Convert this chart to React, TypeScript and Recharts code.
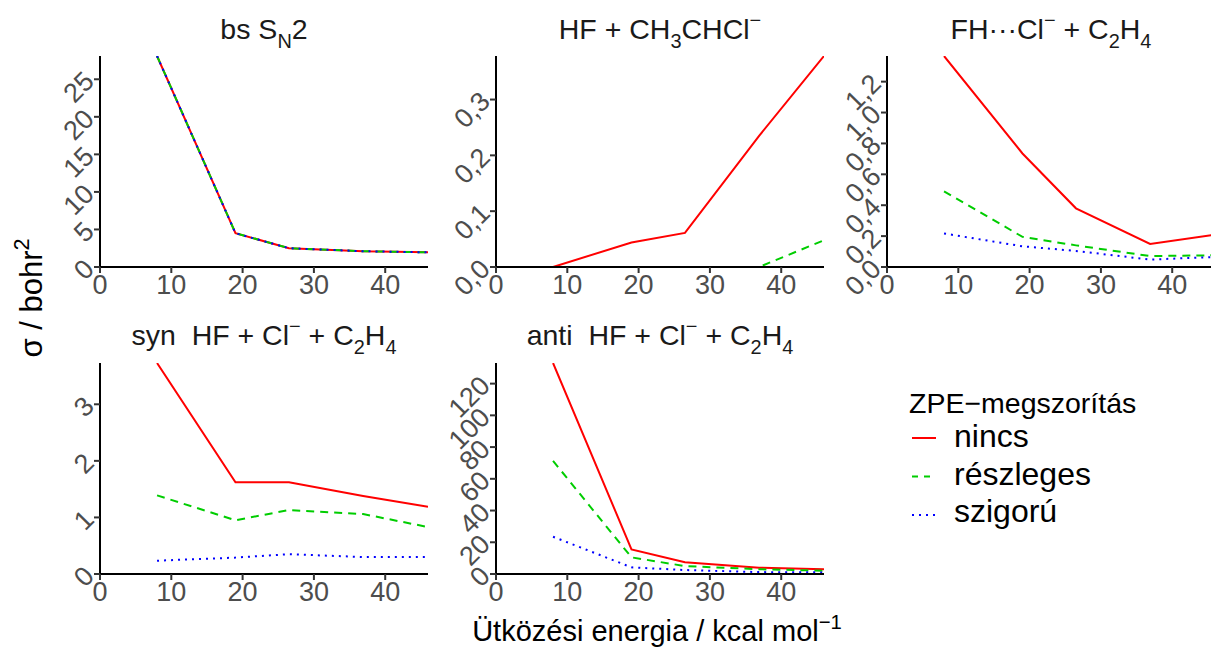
import React from 'react';
import { LineChart, Line, XAxis, YAxis } from 'recharts';

// collision energies (kcal/mol)
const ENERGY = [8, 19, 26.5, 36.9, 46];
const X_TICKS = [0, 10, 20, 30, 40];

// bs SN2 – all three ZPE treatments coincide
const BS_NINCS = [28.1, 4.5, 2.5, 2.1, 1.95];
const BS_RESZLEGES = [28.1, 4.5, 2.5, 2.1, 1.95];
const BS_SZIGORU = [28.1, 4.5, 2.5, 2.1, 1.95];
const BS_TICKS = [0, 5, 10, 15, 20, 25];

// HF + CH3CHCl-
const HF_NINCS = [0, 0.044, 0.061, 0.235, 0.378];
const HF_RESZLEGES = [0, 0, 0, 0, 0.048];
const HF_SZIGORU = [0, 0, 0, 0, 0];
const HF_TICKS = [0, 0.1, 0.2, 0.3];

// FH...Cl- + C2H4
const FH_NINCS = [1.366, 0.735, 0.38, 0.149, 0.21];
const FH_RESZLEGES = [0.49, 0.195, 0.14, 0.071, 0.076];
const FH_SZIGORU = [0.217, 0.134, 0.104, 0.048, 0.065];
const FH_TICKS = [0, 0.2, 0.4, 0.6, 0.8, 1.0, 1.2];

// syn HF + Cl- + C2H4
const SYN_NINCS = [3.73, 1.62, 1.62, 1.38, 1.19];
const SYN_RESZLEGES = [1.39, 0.95, 1.13, 1.06, 0.83];
const SYN_SZIGORU = [0.235, 0.29, 0.35, 0.3, 0.3];
const SYN_TICKS = [0, 1, 2, 3];

// anti HF + Cl- + C2H4
const ANTI_NINCS = [133, 15.5, 7.4, 4.0, 3.0];
const ANTI_RESZLEGES = [71.3, 10.5, 5.0, 3.0, 2.1];
const ANTI_SZIGORU = [23.5, 4.2, 2.5, 1.2, 1.0];
const ANTI_TICKS = [0, 20, 40, 60, 80, 100, 120];

const FONT = '"Liberation Sans", Arial, Helvetica, sans-serif';
const PLOT_W = 328;
const PLOT_H = 211;
const Y_W = 80;

type Part = { t: string; sub?: boolean; sup?: boolean };

const makeRows = (a: number[], b: number[], c: number[]) =>
  ENERGY.map((e, i) => ({ energia: e, nincs: a[i], reszleges: b[i], szigoru: c[i] }));

const RichText = ({ parts, size, ...rest }: any) => {
  let cur = 0;
  return (
    <text fontFamily={FONT} fontSize={size} style={{ whiteSpace: 'pre' }} {...rest}>
      {parts.map((p: Part, i: number) => {
        const target = p.sub ? size * 0.3 : p.sup ? -size * 0.42 : 0;
        const dy = target - cur;
        cur = target;
        return (
          <tspan key={i} dy={dy} fontSize={p.sub || p.sup ? size * 0.7 : size}>
            {p.t}
          </tspan>
        );
      })}
    </text>
  );
};

const XTick = ({ x, y, payload }: any) => (
  <text x={x} y={y} dy="0.71em" textAnchor="middle" fill="#4D4D4D" fontSize={27} fontFamily={FONT}>
    {payload.value}
  </text>
);

const makeYTick = (decimals: number) => ({ x, y, payload }: any) => (
  <g transform={`translate(${x - 3},${y - 3}) rotate(-45)`}>
    <text textAnchor="end" dy="0.35em" fill="#4D4D4D" fontSize={27} fontFamily={FONT}>
      {Number(payload.value).toFixed(decimals).replace('.', ',')}
    </text>
  </g>
);

interface PanelProps {
  left: number;
  top: number;
  data: any[];
  ticks: number[];
  decimals: number;
}

const Panel: React.FC<PanelProps> = ({ left, top, data, ticks, decimals }) => (
  <div style={{ position: 'absolute', left: left - Y_W, top: top - 10 }}>
    <LineChart
      width={Y_W + PLOT_W + 10}
      height={10 + PLOT_H + 50}
      data={data}
      margin={{ top: 10, right: 10, left: 0, bottom: 0 }}
    >
      <XAxis
        dataKey="energia"
        type="number"
        domain={[0, 46]}
        ticks={X_TICKS}
        allowDataOverflow
        height={50}
        tickSize={6}
        axisLine={{ stroke: '#000', strokeWidth: 2 }}
        tickLine={{ stroke: '#333', strokeWidth: 2 }}
        tick={<XTick />}
      />
      <YAxis
        type="number"
        domain={[0, 'dataMax']}
        ticks={ticks}
        allowDataOverflow
        width={Y_W}
        tickSize={6}
        axisLine={{ stroke: '#000', strokeWidth: 2 }}
        tickLine={{ stroke: '#333', strokeWidth: 2 }}
        tick={makeYTick(decimals)}
      />
      <Line type="linear" dataKey="nincs" stroke="#FF0000" strokeWidth={2} dot={false} isAnimationActive={false} />
      <Line type="linear" dataKey="reszleges" stroke="#00CD00" strokeWidth={2} strokeDasharray="8 6" dot={false} isAnimationActive={false} />
      <Line type="linear" dataKey="szigoru" stroke="#0000FF" strokeWidth={2} strokeDasharray="2 5" dot={false} isAnimationActive={false} />
    </LineChart>
  </div>
);

const TITLES: { x: number; y: number; parts: Part[] }[] = [
  { x: 264, y: 39, parts: [{ t: 'bs S' }, { t: 'N', sub: true }, { t: '2' }] },
  { x: 660, y: 39, parts: [{ t: 'HF + CH' }, { t: '3', sub: true }, { t: 'CHCl' }, { t: '−', sup: true }] },
  { x: 1051, y: 39, parts: [{ t: 'FH···Cl' }, { t: '−', sup: true }, { t: ' + C' }, { t: '2', sub: true }, { t: 'H' }, { t: '4', sub: true }] },
  { x: 264, y: 345, parts: [{ t: 'syn  HF + Cl' }, { t: '−', sup: true }, { t: ' + C' }, { t: '2', sub: true }, { t: 'H' }, { t: '4', sub: true }] },
  { x: 660, y: 345, parts: [{ t: 'anti  HF + Cl' }, { t: '−', sup: true }, { t: ' + C' }, { t: '2', sub: true }, { t: 'H' }, { t: '4', sub: true }] },
];

const LEGEND = [
  { label: 'nincs', color: '#FF0000', dash: undefined },
  { label: 'részleges', color: '#00CD00', dash: '6 6' },
  { label: 'szigorú', color: '#0000FF', dash: '2 5' },
];

export default function App() {
  return (
    <div style={{ position: 'absolute', left: 0, top: 0, width: 1211, height: 648, overflow: 'hidden', background: '#fff' }}>
      <Panel left={100} top={56} data={makeRows(BS_NINCS, BS_RESZLEGES, BS_SZIGORU)} ticks={BS_TICKS} decimals={0} />
      <Panel left={496} top={56} data={makeRows(HF_NINCS, HF_RESZLEGES, HF_SZIGORU)} ticks={HF_TICKS} decimals={1} />
      <Panel left={887} top={56} data={makeRows(FH_NINCS, FH_RESZLEGES, FH_SZIGORU)} ticks={FH_TICKS} decimals={1} />
      <Panel left={100} top={363} data={makeRows(SYN_NINCS, SYN_RESZLEGES, SYN_SZIGORU)} ticks={SYN_TICKS} decimals={0} />
      <Panel left={496} top={363} data={makeRows(ANTI_NINCS, ANTI_RESZLEGES, ANTI_SZIGORU)} ticks={ANTI_TICKS} decimals={0} />
      <svg width={1211} height={648} style={{ position: 'absolute', left: 0, top: 0, pointerEvents: 'none' }}>
        {TITLES.map((t, i) => (
          <RichText key={i} x={t.x} y={t.y} size={28.5} textAnchor="middle" fill="#1A1A1A" parts={t.parts} />
        ))}
        <RichText
          x={657}
          y={641}
          size={29}
          textAnchor="middle"
          fill="#000"
          parts={[{ t: 'Ütközési energia / kcal mol' }, { t: '−1', sup: true }]}
        />
        <g transform="translate(42,298) rotate(-90)">
          <RichText x={0} y={0} size={31} textAnchor="middle" fill="#000" parts={[{ t: 'σ / bohr' }, { t: '2', sup: true }]} />
        </g>
        <text x={909} y={413} fontFamily={FONT} fontSize={28.5} fill="#000">ZPE−megszorítás</text>
        {LEGEND.map((l, i) => (
          <g key={l.label}>
            <line x1={912} x2={936} y1={438 + i * 38.5} y2={438 + i * 38.5} stroke={l.color} strokeWidth={2} strokeDasharray={l.dash} />
            <text x={954} y={447 + i * 37.5} fontFamily={FONT} fontSize={32} fill="#000">{l.label}</text>
          </g>
        ))}
      </svg>
    </div>
  );
}
